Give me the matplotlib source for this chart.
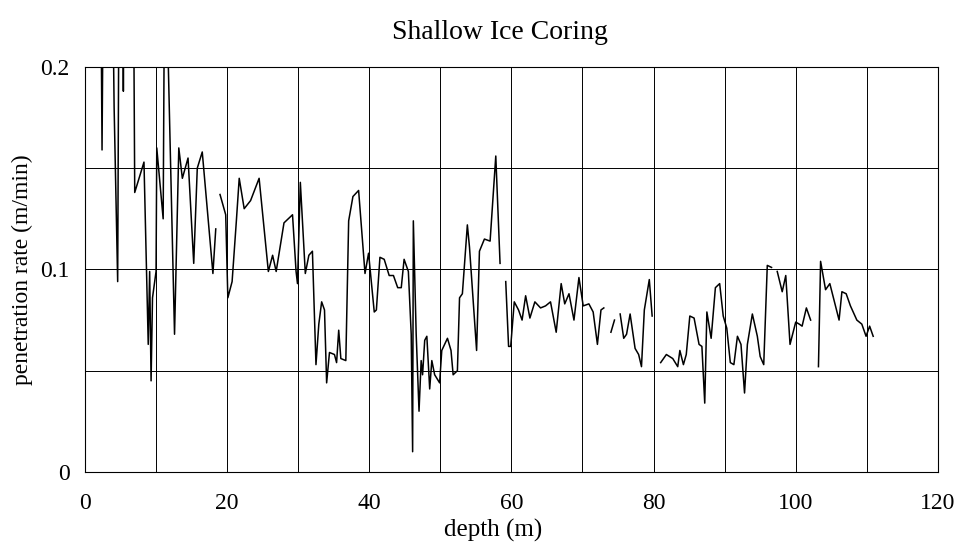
import numpy as np
import matplotlib
matplotlib.use("Agg")
import matplotlib.pyplot as plt

nan = np.nan

# depth (m) and penetration rate (m/min); nan = gap in the record
depth = [2.2, 2.4, 2.6, 3.9, 4.1, 4.6, 4.8, 5.3, 5.4, 5.5, 6.8, 7.0, 8.3, 8.9, 9.1,
         9.3, 9.5, 10.0, 10.1, 11.0, 11.2, 11.4, 12.6, 13.2, 13.7, 14.5, 15.3, 15.8,
         16.5, 18.0, 18.4, 18.7,
         19.0, 19.8, 20.1, 20.7, 21.3, 21.7, 22.4, 23.3, 24.5, 25.8, 26.4, 26.9, 28.0,
         29.2, 29.7, 29.9, 30.3, 31.0, 31.5, 32.0, 32.5, 32.9, 33.3, 33.7, 34.0, 34.4,
         35.1, 35.4, 35.7, 36.0, 36.7, 37.1, 37.7, 38.5, 39.4, 39.9, 40.7, 41.0, 41.5,
         42.1, 42.8, 43.4, 44.0, 44.5, 44.9, 45.5, 45.9, 46.1, 46.2, 46.6, 47.0, 47.3,
         47.5, 47.8, 48.1, 48.5, 48.8, 49.2, 49.9, 50.2, 51.0, 51.5, 51.8, 52.4, 52.7,
         53.1, 53.8, 54.1, 55.1, 55.5, 56.2, 57.0, 57.8, 58.4, 58.8,
         59.2, 59.6, 59.9, 60.4, 61.0, 61.5, 62.0, 62.6, 63.3, 64.1, 64.8, 65.5, 66.3,
         67.0, 67.5, 68.1, 68.8, 69.5, 70.1, 70.9, 71.5, 72.1, 72.6, 73.0, 73.5,
         74.0, 74.5, 74.9,
         75.3, 75.8, 76.2, 76.7, 77.4, 77.9, 78.3, 78.7, 79.4, 79.8, 80.4,
         81.0, 81.8, 82.7, 83.4, 83.7, 84.2, 84.6, 85.1, 85.7, 86.4, 86.8, 87.2, 87.5,
         88.1, 88.7, 89.3, 89.8, 90.3, 90.8, 91.3, 91.8, 92.3, 92.8, 93.2, 93.9, 94.6,
         95.0, 95.5, 96.0, 96.6, 97.0,
         97.4, 98.1, 98.6, 99.2, 100.0, 100.5, 100.9, 101.5, 102.1, 102.6,
         103.2, 103.5, 104.2, 104.8, 106.1, 106.5, 107.1, 107.7, 108.6, 109.3, 109.9,
         110.4, 110.9]
rate = [0.26, 0.159, 0.26, 0.24, 0.18, 0.094, 0.26, 0.26, 0.188, 0.26, 0.26, 0.138,
        0.153, 0.063, 0.099, 0.045, 0.086, 0.099, 0.16, 0.125, 0.25, 0.25, 0.068,
        0.16, 0.145, 0.155, 0.103, 0.15, 0.158, 0.098, 0.12, nan,
        0.137, 0.127, 0.086, 0.094, 0.124, 0.145, 0.13, 0.134, 0.145, 0.099, 0.107,
        0.099, 0.123, 0.127, 0.099, 0.093, 0.143, 0.098, 0.107, 0.109, 0.053, 0.073,
        0.084, 0.080, 0.044, 0.059, 0.058, 0.054, 0.070, 0.056, 0.055, 0.124, 0.136,
        0.139, 0.098, 0.108, 0.079, 0.080, 0.106, 0.105, 0.097, 0.097, 0.091, 0.091,
        0.105, 0.099, 0.068, 0.010, 0.124, 0.068, 0.030, 0.055, 0.048, 0.065, 0.067,
        0.041, 0.055, 0.048, 0.044, 0.060, 0.066, 0.060, 0.048, 0.050, 0.086, 0.088,
        0.122, 0.111, 0.060, 0.109, 0.115, 0.114, 0.156, 0.103, nan,
        0.094, 0.062, 0.062, 0.084, 0.080, 0.075, 0.087, 0.076, 0.084, 0.081, 0.082,
        0.084, 0.069, 0.093, 0.083, 0.088, 0.075, 0.096, 0.082, 0.083, 0.079, 0.063,
        0.080, 0.081, nan,
        0.069, 0.075, nan,
        0.078, 0.066, 0.068, 0.078, 0.061, 0.058, 0.052, 0.080, 0.095, 0.077, nan,
        0.054, 0.058, 0.056, 0.052, 0.060, 0.053, 0.058, 0.077, 0.076, 0.063, 0.062,
        0.034, 0.079, 0.066, 0.091, 0.093, 0.077, 0.071, 0.054, 0.053, 0.067, 0.063,
        0.039, 0.063, 0.078, 0.067, 0.057, 0.053, 0.102, 0.101, nan,
        0.099, 0.089, 0.097, 0.063, 0.074, 0.073, 0.072, 0.081, 0.075, nan,
        0.052, 0.104, 0.090, 0.093, 0.075, 0.089, 0.088, 0.082, 0.075, 0.073, 0.067,
        0.072, 0.067]

plt.rcParams['font.family'] = ['Liberation Serif', 'DejaVu Serif']

fig = plt.figure(figsize=(9.57, 5.44), dpi=100)
ax = fig.add_axes([0.0888, 0.1324, 0.8912, 0.7446])

ax.plot(depth, rate, color='black', linewidth=1.1)

ax.set_xlim(0, 120)
ax.set_ylim(0, 0.2)
ax.set_xticks(np.arange(0, 121, 10), minor=True)
ax.set_xticks(np.arange(0, 121, 20))
ax.set_yticks(np.arange(0, 0.201, 0.05), minor=True)
ax.set_yticks([0, 0.1, 0.2])
ax.set_yticklabels(['0', '0.1', '0.2'])
ax.grid(True, which='both', color='black', linewidth=0.7)
ax.tick_params(which='both', length=0)
ax.tick_params(axis='x', labelsize=17, pad=15)
ax.tick_params(axis='y', labelsize=17, pad=11)
for s in ax.spines.values():
    s.set_linewidth(0.8)

# title and x label are placed a bit left of the axes centre, as in the original
fig.text(0.522, 0.94, 'Shallow Ice Coring', fontsize=20, ha='center', va='center')
ax.set_xlabel('depth (m)', fontsize=18)
ax.xaxis.set_label_coords(0.479, -0.115)
ax.set_ylabel('penetration rate (m/min)', fontsize=17)
ax.yaxis.set_label_coords(-0.061, 0.5)

fig.savefig('out.png', dpi=100)
